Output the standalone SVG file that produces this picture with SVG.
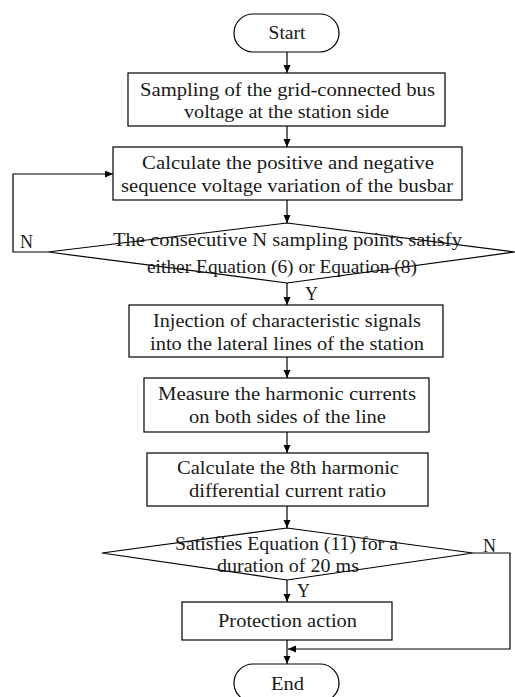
<svg xmlns="http://www.w3.org/2000/svg" width="515" height="697" viewBox="0 0 515 697">
<style>
.s{fill:#fff;stroke:#000;stroke-width:1.2}
.t{font-family:"Liberation Serif","Times New Roman",serif;font-size:18px;fill:#1a1a1a;text-anchor:middle}
.l{font-family:"Liberation Serif","Times New Roman",serif;font-size:18px;fill:#1a1a1a}
.c{fill:none;stroke:#000;stroke-width:1.2}
</style>
<defs>
<marker id="a" markerUnits="userSpaceOnUse" markerWidth="9" markerHeight="8" refX="8" refY="3.5" orient="auto">
<path d="M0,0 L8,3.5 L0,7 z" fill="#000"/>
</marker>
</defs>
<rect width="515" height="697" fill="#fff"/>
<g id="connectors">
<line class="c" x1="287" y1="52" x2="287" y2="73" marker-end="url(#a)"/>
<line class="c" x1="287" y1="126" x2="287" y2="147" marker-end="url(#a)"/>
<line class="c" x1="287" y1="200" x2="287" y2="223" marker-end="url(#a)"/>
<line class="c" x1="287" y1="283" x2="287" y2="305" marker-end="url(#a)"/>
<line class="c" x1="287" y1="357" x2="287" y2="378" marker-end="url(#a)"/>
<line class="c" x1="287" y1="432" x2="287" y2="453" marker-end="url(#a)"/>
<line class="c" x1="287" y1="506" x2="287" y2="528" marker-end="url(#a)"/>
<line class="c" x1="287" y1="580" x2="287" y2="602" marker-end="url(#a)"/>
<line class="c" x1="287" y1="640" x2="287" y2="664" marker-end="url(#a)"/>
<polyline class="c" points="48,252 13,252 13,174 113,174" marker-end="url(#a)"/>
<polyline class="c" points="473,553 510,553 510,649 288,649" marker-end="url(#a)"/>
<text class="l" x="20" y="248">N</text>
<text class="l" x="305" y="300">Y</text>
<text class="l" x="483" y="552">N</text>
<text class="l" x="297" y="597">Y</text>
</g>
<g id="start">
<rect class="s" x="234" y="14" width="105" height="38" rx="19"/>
<text class="t" x="287" y="39" textLength="37" lengthAdjust="spacingAndGlyphs">Start</text>
</g>
<g id="sampling">
<rect class="s" x="128" y="73" width="317" height="53"/>
<text class="t" x="287.5" y="96" textLength="295" lengthAdjust="spacingAndGlyphs">Sampling of the grid-connected bus</text>
<text class="t" x="286.5" y="118" textLength="205" lengthAdjust="spacingAndGlyphs">voltage at the station side</text>
</g>
<g id="calc">
<rect class="s" x="113" y="147" width="349" height="53"/>
<text class="t" x="288" y="169" textLength="292" lengthAdjust="spacingAndGlyphs">Calculate the positive and negative</text>
<text class="t" x="287" y="192" textLength="332" lengthAdjust="spacingAndGlyphs">sequence voltage variation of the busbar</text>
</g>
<g id="decision1">
<polygon class="s" points="287,223 515,252 287,283 48,252"/>
<text class="t" x="287.5" y="246" textLength="349" lengthAdjust="spacingAndGlyphs">The consecutive N sampling points satisfy</text>
<text class="t" x="282" y="273" textLength="270" lengthAdjust="spacingAndGlyphs">either Equation (6) or Equation (8)</text>
</g>
<g id="injection">
<rect class="s" x="129" y="305" width="314" height="52"/>
<text class="t" x="287" y="327" textLength="268" lengthAdjust="spacingAndGlyphs">Injection of characteristic signals</text>
<text class="t" x="287" y="350" textLength="274" lengthAdjust="spacingAndGlyphs">into the lateral lines of the station</text>
</g>
<g id="measure">
<rect class="s" x="144" y="378" width="285" height="54"/>
<text class="t" x="287" y="400" textLength="258" lengthAdjust="spacingAndGlyphs">Measure the harmonic currents</text>
<text class="t" x="287.5" y="423" textLength="197" lengthAdjust="spacingAndGlyphs">on both sides of the line</text>
</g>
<g id="ratio">
<rect class="s" x="147" y="453" width="281" height="53"/>
<text class="t" x="288" y="474" textLength="222" lengthAdjust="spacingAndGlyphs">Calculate the 8th harmonic</text>
<text class="t" x="287.5" y="497" textLength="197" lengthAdjust="spacingAndGlyphs">differential current ratio</text>
</g>
<g id="decision2">
<polygon class="s" points="287,528 473,553 287,580 102,553"/>
<text class="t" x="286.5" y="550" textLength="223" lengthAdjust="spacingAndGlyphs">Satisfies Equation (11) for a</text>
<text class="t" x="288" y="572" textLength="142" lengthAdjust="spacingAndGlyphs">duration of 20 ms</text>
</g>
<g id="protection">
<rect class="s" x="182" y="602" width="210" height="38"/>
<text class="t" x="287.5" y="627" textLength="139" lengthAdjust="spacingAndGlyphs">Protection action</text>
</g>
<g id="end">
<rect class="s" x="234" y="664" width="105" height="38" rx="19"/>
<text class="t" x="287.5" y="690" textLength="33" lengthAdjust="spacingAndGlyphs">End</text>
</g>
</svg>
